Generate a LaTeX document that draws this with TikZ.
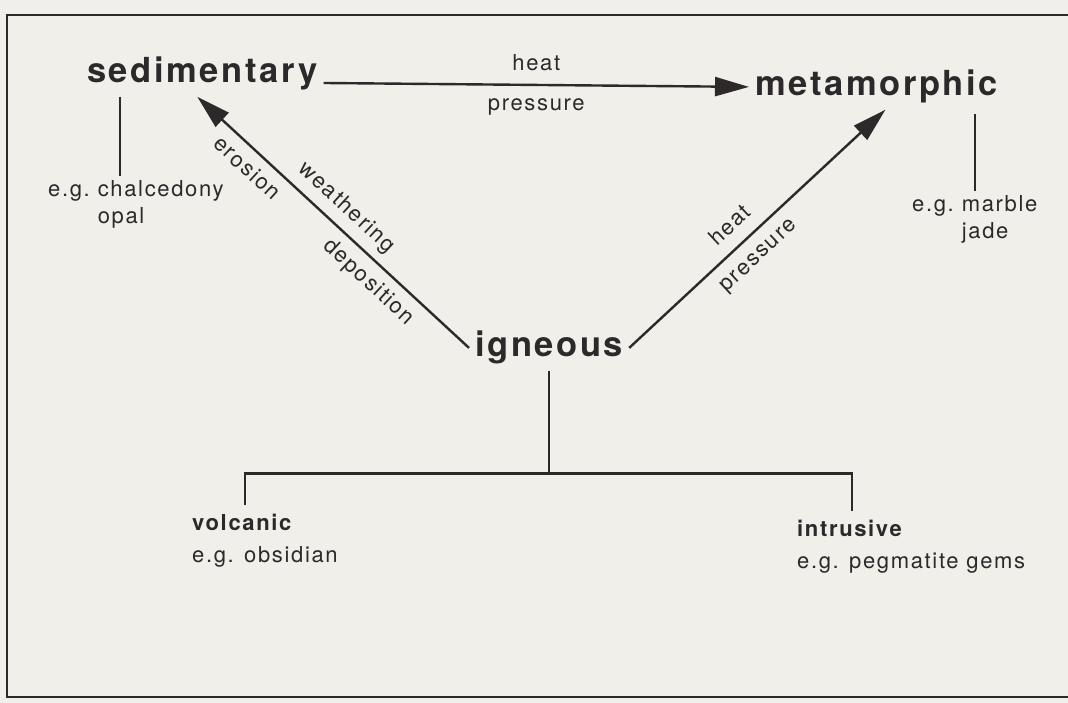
\documentclass[tikz,border=0pt]{standalone}
\usepackage{fontspec}
\usetikzlibrary{arrows.meta}
\newfontfamily\rockfont[LetterSpace=7.5]{TeX Gyre Heros}
\newcommand\bigword{\rockfont\bfseries\fontsize{34.5}{40}\selectfont}
\newcommand\smallword{\rockfont\fontsize{22}{27}\selectfont}
\newcommand\leafword{\rockfont\fontsize{22}{32}\selectfont}
\definecolor{ink}{RGB}{45,40,42}
\definecolor{paper}{RGB}{240,239,234}

\begin{document}
\begin{tikzpicture}[x=1pt, y=1pt,
  rock/.style={font=\bigword, text=ink, inner sep=6pt, anchor=base west},
  example/.style={font=\smallword, text=ink, inner sep=2pt, anchor=base west},
  leaf/.style={font=\leafword, text=ink, inner sep=3pt, anchor=base west},
  lbl/.style={font=\smallword, text=ink, inner sep=0pt, text height=11.5pt, text depth=0pt},
  arr/.style={draw=ink, line width=2.4pt, -{Triangle[length=34pt, width=19pt]}},
  tick/.style={draw=ink, line width=2.5pt},
  frame/.style={draw=ink, line width=2.5pt}]

  \fill[paper] (0, 0) rectangle (1068, 703);
  \useasboundingbox (0, 0) rectangle (1068, 703);

  \node[rock] (sed) at (81, 620){
    sedimentary
  };

  \node[rock] (meta) at (749, 607){
    metamorphic
  };

  \node[rock] (ign) at (469, 346){
    igneous
  };

  \node[example] (sedex) at (46, 506){
    \begin{tabular}[t]{@{}l@{\hspace{8pt}}l@{}}
      e.g. & chalcedony\\
           & opal
    \end{tabular}
  };

  \node[example] (metaex) at (910, 491){
    \begin{tabular}[t]{@{}l@{\hspace{8pt}}l@{}}
      e.g. & marble\\
           & jade
    \end{tabular}
  };

  \node[leaf] (volc) at (189, 172){
    \begin{tabular}[t]{@{}l@{}}
      \textbf{volcanic}\\
      e.g. obsidian
    \end{tabular}
  };

  \node[leaf] (intr) at (794, 166){
    \begin{tabular}[t]{@{}l@{}}
      \textbf{intrusive}\\
      e.g. pegmatite gems
    \end{tabular}
  };

  \coordinate (sedtick) at ([xshift=39pt]sed.south west);
  \coordinate (fork) at ([yshift=-103pt]ign.south);

  \draw[arr] (sed.base east) -- node[lbl, above=13pt]{heat} node[lbl, below=13pt]{pressure} (meta.west);
  \draw[arr] (ign.west) -- node[lbl, sloped, below=13pt, pos=0.77]{erosion} node[lbl, sloped, above=13pt, pos=0.5]{weathering} node[lbl, sloped, below=13pt, pos=0.32]{deposition} ([xshift=-5pt]sed.south);
  \draw[arr] (ign.east) -- node[lbl, sloped, above=13pt, pos=0.45]{heat} node[lbl, sloped, below=13pt, pos=0.45]{pressure} ([xshift=9pt]meta.south);

  \draw[tick] (sedtick) -- (sedtick |- sedex.north);
  \draw[tick, shorten >=4pt] (metaex.north) -- (metaex.north |- meta.south);
  \draw[tick] (ign.south) -- (fork);
  \draw[tick] ([xshift=56pt]volc.north west) |- (fork) -| ([xshift=58pt]intr.north west);

  \draw[frame] (1068, 688) -| (7, 6) -- (1068, 6);
\end{tikzpicture}
\end{document}
